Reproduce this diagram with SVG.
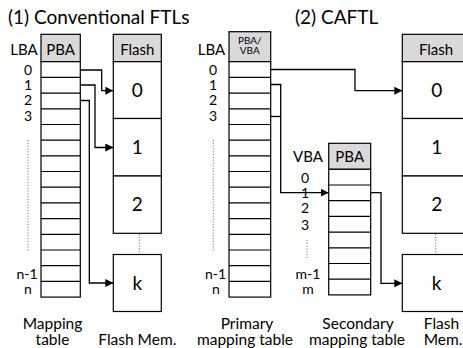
<svg xmlns="http://www.w3.org/2000/svg" width="463" height="348" viewBox="0 0 463 348">
<style>
text{font-family:Lato,"Open Sans",sans-serif;fill:#000}
.t{font-size:19px}
.l{font-size:15px}
.n{font-size:14px}
.b{font-size:15.5px}
.s{font-size:10px}
.big{font-size:19px}
.m{text-anchor:middle}
.box{fill:#fff;stroke:#000;stroke-width:1.2}
.hd{fill:#d9d9d9;stroke:#000;stroke-width:1.2}
.row{stroke:#000;stroke-width:1.2;fill:none}
.dot{stroke:#777;stroke-width:1;stroke-dasharray:1.2 1.6;fill:none}
.c{stroke:#000;stroke-width:1.3;fill:none}
</style>
<defs>
<marker id="ah" viewBox="0 0 8 8" refX="8" refY="4" markerWidth="8" markerHeight="8" markerUnits="userSpaceOnUse" orient="auto">
<path d="M0,0 L8,4 L0,8 Z" fill="#000"/>
</marker>
</defs>
<rect width="463" height="348" fill="#fff"/>

<text class="t" x="8" y="24">(1) Conventional FTLs</text>
<text class="t" x="295" y="24">(2) CAFTL</text>

<g id="left-mapping-table">
<rect class="hd" x="41" y="34.3" width="39.3" height="27.4"/>
<text class="l m" x="60.6" y="54.5">PBA</text>
<rect class="box" x="41" y="61.7" width="39.3" height="235.4"/>
<path class="row" d="M41,77.4H80.3M41,93.1H80.3M41,108.8H80.3M41,124.5H80.3M41,140.2H80.3M41,155.8H80.3M41,171.5H80.3M41,187.2H80.3M41,202.9H80.3M41,218.6H80.3M41,234.3H80.3M41,250H80.3M41,265.7H80.3M41,281.4H80.3"/>
<text class="l m" x="24" y="55">LBA</text>
<text class="n m" x="28" y="74.5">0</text>
<text class="n m" x="28" y="89.5">1</text>
<text class="n m" x="28" y="104.5">2</text>
<text class="n m" x="28" y="121">3</text>
<line class="dot" x1="28" y1="140" x2="28" y2="252"/>
<text class="n m" x="27" y="279">n-1</text>
<text class="n m" x="28" y="294">n</text>
<text class="b m" x="52.5" y="329">Mapping</text>
<text class="b m" x="52.5" y="345">table</text>
</g>

<g id="left-flash">
<rect class="hd" x="113.3" y="34.3" width="48" height="27.4"/>
<text class="l m" x="137.3" y="54.5">Flash</text>
<rect class="box" x="113.3" y="61.7" width="48" height="56.8"/>
<text class="big m" x="137.3" y="97">0</text>
<rect class="box" x="113.3" y="118.5" width="48" height="57.5"/>
<text class="big m" x="137.3" y="154">1</text>
<rect class="box" x="113.3" y="176" width="48" height="57.3"/>
<text class="big m" x="137.3" y="211">2</text>
<line class="dot" x1="139.3" y1="234" x2="139.3" y2="254"/>
<rect class="box" x="113.3" y="254.5" width="48" height="57"/>
<text class="big m" x="137.3" y="290">k</text>
<text class="b m" x="137.3" y="345">Flash Mem.</text>
</g>

<g id="primary-table">
<rect class="hd" x="229" y="31.7" width="41.7" height="30"/>
<text class="s m" x="249.8" y="44"><tspan x="249.8">PBA/</tspan><tspan x="249.8" dy="9.5">VBA</tspan></text>
<rect class="box" x="229" y="61.7" width="41.7" height="235.4"/>
<path class="row" d="M229,77.4H270.7M229,93.1H270.7M229,108.8H270.7M229,124.5H270.7M229,140.2H270.7M229,155.8H270.7M229,171.5H270.7M229,187.2H270.7M229,202.9H270.7M229,218.6H270.7M229,234.3H270.7M229,250H270.7M229,265.7H270.7M229,281.4H270.7"/>
<text class="l m" x="211.5" y="55">LBA</text>
<text class="n m" x="213" y="74.5">0</text>
<text class="n m" x="213" y="89.5">1</text>
<text class="n m" x="213" y="104.5">2</text>
<text class="n m" x="213" y="121">3</text>
<line class="dot" x1="213.3" y1="140" x2="213.3" y2="252"/>
<text class="n m" x="215.5" y="279">n-1</text>
<text class="n m" x="216" y="294">n</text>
<text class="b m" x="247" y="329">Primary</text>
<text class="b m" x="245" y="345">mapping table</text>
</g>

<g id="secondary-table">
<rect class="hd" x="328.7" y="143.3" width="42" height="26"/>
<text class="l m" x="349.7" y="162">PBA</text>
<rect class="box" x="328.7" y="169.3" width="42" height="125.6"/>
<path class="row" d="M328.7,185H370.7M328.7,200.7H370.7M328.7,216.4H370.7M328.7,232.1H370.7M328.7,247.8H370.7M328.7,263.5H370.7M328.7,279.2H370.7"/>
<text class="l m" x="308" y="162">VBA</text>
<text class="n m" x="305" y="183">0</text>
<text class="n m" x="305" y="198">1</text>
<text class="n m" x="305" y="213">2</text>
<text class="n m" x="305" y="229.5">3</text>
<line class="dot" x1="307" y1="240" x2="307" y2="258"/>
<text class="n m" x="308" y="279">m-1</text>
<text class="n m" x="308" y="294">m</text>
<text class="b m" x="358" y="329">Secondary</text>
<text class="b m" x="357" y="345">mapping table</text>
</g>

<g id="right-flash">
<rect class="hd" x="402.3" y="34.3" width="70" height="27.4"/>
<text class="l m" x="436" y="54.5">Flash</text>
<rect class="box" x="402.3" y="61.7" width="70" height="56.8"/>
<text class="big m" x="436.7" y="97">0</text>
<rect class="box" x="402.3" y="118.5" width="70" height="57.5"/>
<text class="big m" x="436.7" y="154">1</text>
<rect class="box" x="402.3" y="176" width="70" height="57.3"/>
<text class="big m" x="436.7" y="211">2</text>
<line class="dot" x1="435.7" y1="234" x2="435.7" y2="254"/>
<rect class="box" x="402.3" y="254.5" width="70" height="57"/>
<text class="big m" x="436.7" y="290">k</text>
<text class="b m" x="441.5" y="329">Flash</text>
<text class="b m" x="443" y="345">Mem.</text>
</g>

<g id="connectors">
<path class="c" d="M80.3,70H101.7V90.7H113.3" marker-end="url(#ah)"/>
<path class="c" d="M80.3,85H95V147.5H113.3" marker-end="url(#ah)"/>
<path class="c" d="M80.3,100.5H89.3V283H113.3" marker-end="url(#ah)"/>
<path class="c" d="M270.7,69.5H355V90.7H402.3" marker-end="url(#ah)"/>
<path class="c" d="M270.7,84.5H280.7V192.7H328.7" marker-end="url(#ah)"/>
<path class="c" d="M270.7,116.5H280.7"/>
<path class="c" d="M370.7,192.7H381V283.3H402.3" marker-end="url(#ah)"/>
</g>
</svg>
